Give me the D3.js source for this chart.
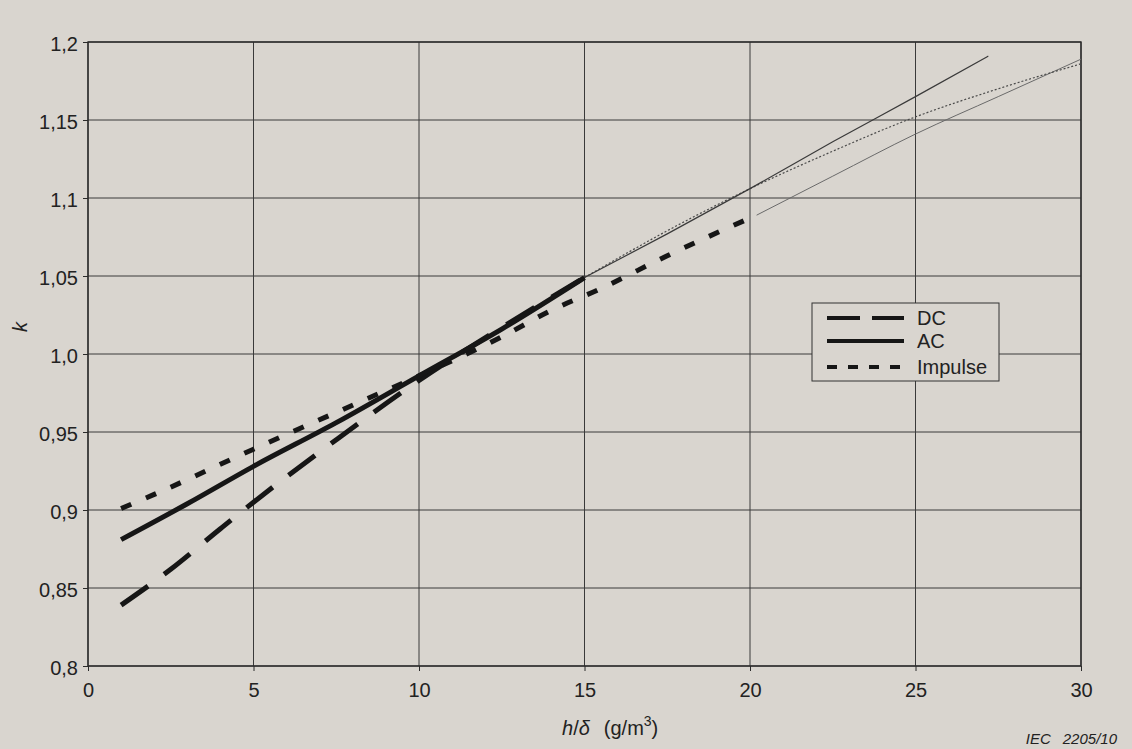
<!DOCTYPE html>
<html>
<head>
<meta charset="utf-8">
<script src="https://cdn.jsdelivr.net/npm/d3@7"></script>
<style>
  body { margin: 0; background: #d9d5cf; }
  svg { display: block; }
  text { font-family: "Liberation Sans", Arial, sans-serif; fill: #222; }
</style>
</head>
<body>
<svg id="chart" width="1132" height="749"></svg>
<script>
// values: [h/delta, k]
var dcMeasured = [[1, 0.839], [2.5, 0.862], [4, 0.888], [5, 0.905], [7.5, 0.945], [10, 0.983], [12.5, 1.017], [15, 1.049]];
var dcExtended = [[15, 1.049], [17.5, 1.079], [20, 1.106], [22.5, 1.130], [25, 1.152], [27.5, 1.170], [30, 1.186]];
var acMeasured = [[1, 0.881], [3, 0.904], [5, 0.928], [7.5, 0.956], [10, 0.986], [12.5, 1.016], [15, 1.049]];
var acExtended = [[15, 1.049], [17.5, 1.077], [20, 1.106], [22.5, 1.136], [25, 1.165], [27.2, 1.191]];
var impMeasured = [[1, 0.901], [2, 0.910], [5, 0.939], [8.4, 0.971], [10, 0.986], [12.5, 1.011], [14, 1.028], [15.5, 1.042], [17.5, 1.063], [20.2, 1.089]];
var impExtended = [[20.2, 1.089], [22.5, 1.114], [25, 1.141], [27.5, 1.165], [30, 1.189]];

var xTicks = [0, 5, 10, 15, 20, 25, 30];
var yTicks = [0.8, 0.85, 0.9, 0.95, 1.0, 1.05, 1.1, 1.15, 1.2];
var legendKeys = ["DC", "AC", "Impulse"];

var svg = d3.select("#chart"),
    margin = { top: 42, right: 51, bottom: 83, left: 88 },
    width = +svg.attr("width") - margin.left - margin.right,
    height = +svg.attr("height") - margin.top - margin.bottom,
    g = svg.append("g").attr("transform", "translate(" + margin.left + "," + margin.top + ")");

var x = d3.scaleLinear().domain([0, 30]).range([0, width]);
var y = d3.scaleLinear().domain([0.8, 1.2]).range([height, 0]);

function fmt(d) {
    var s = d3.format(".2f")(d);
    if (s.slice(-1) === "0") s = s.slice(0, -1);
    return s.replace(".", ",");
}

// grid
g.append("g")
    .selectAll("line")
    .data(yTicks)
    .enter().append("line")
    .attr("x1", 0).attr("x2", width)
    .attr("y1", function (d) { return y(d); })
    .attr("y2", function (d) { return y(d); })
    .attr("stroke", "#3a3a3a")
    .attr("stroke-width", 1);

g.append("g")
    .selectAll("line")
    .data(xTicks)
    .enter().append("line")
    .attr("y1", 0).attr("y2", height)
    .attr("x1", function (d) { return x(d); })
    .attr("x2", function (d) { return x(d); })
    .attr("stroke", "#3a3a3a")
    .attr("stroke-width", 1);

g.append("rect")
    .attr("width", width).attr("height", height)
    .attr("fill", "none")
    .attr("stroke", "#2a2a2a")
    .attr("stroke-width", 1.4);

// axes
var yAxis = g.append("g")
    .call(d3.axisLeft(y).tickValues(yTicks).tickSize(5).tickPadding(5).tickFormat(fmt));
var xAxis = g.append("g")
    .attr("transform", "translate(0," + height + ")")
    .call(d3.axisBottom(x).tickValues(xTicks).tickSize(5).tickPadding(12));

[yAxis, xAxis].forEach(function (a) {
    a.select(".domain").remove();
    a.selectAll(".tick line").attr("stroke", "#2a2a2a");
    a.selectAll(".tick text").attr("font-size", 20).attr("fill", "#222")
        .attr("font-family", "Liberation Sans, Arial, sans-serif");
});
yAxis.selectAll(".tick text").attr("dy", "0.42em");

// series
var line = d3.line()
    .curve(d3.curveMonotoneX)
    .x(function (d) { return x(d[0]); })
    .y(function (d) { return y(d[1]); });

function thin(data, color, dash, w) {
    g.append("path")
        .datum(data)
        .attr("fill", "none")
        .attr("stroke", color)
        .attr("stroke-width", w)
        .attr("stroke-dasharray", dash)
        .attr("d", line);
}
thin(impExtended, "#6a6a6a", null, 1);
thin(dcExtended, "#4a4a4a", "2,2", 1.2);
thin(acExtended, "#3a3a3a", null, 1.2);

function thick(data, dash) {
    g.append("path")
        .datum(data)
        .attr("fill", "none")
        .attr("stroke", "#161616")
        .attr("stroke-width", 5)
        .attr("stroke-dasharray", dash)
        .attr("d", line);
}
thick(dcMeasured, "33,20");
thick(impMeasured, "11,16");
thick(acMeasured, null);

// legend
var legend = svg.append("g").attr("transform", "translate(812,303)");
legend.append("rect")
    .attr("width", 187).attr("height", 78)
    .attr("fill", "#d9d5cf")
    .attr("stroke", "#333")
    .attr("stroke-width", 1);
var dashes = { "DC": "33,12", "AC": null, "Impulse": "10,11" };
var rows = legend.selectAll("g.row")
    .data(legendKeys)
    .enter().append("g")
    .attr("class", "row")
    .attr("transform", function (d, i) { return "translate(0," + [15, 38, 64][i] + ")"; });
rows.append("line")
    .attr("x1", 15).attr("x2", 92)
    .attr("stroke", "#161616")
    .attr("stroke-width", 4)
    .attr("stroke-dasharray", function (d) { return dashes[d]; });
rows.append("text")
    .attr("x", 105)
    .attr("dy", "0.36em")
    .attr("font-size", 20)
    .text(function (d) { return d; });

// axis titles
var xt = svg.append("text")
    .attr("x", 562).attr("y", 735)
    .attr("font-size", 20);
xt.append("tspan").attr("font-style", "italic").text("h");
xt.append("tspan").text("/");
xt.append("tspan").attr("font-style", "italic").text("δ");
xt.append("tspan").attr("dx", 14).text("(g/m");
xt.append("tspan").attr("dy", -9).attr("font-size", 14).text("3");
xt.append("tspan").attr("dy", 9).text(")");

svg.append("text")
    .attr("transform", "translate(27,327) rotate(-90)")
    .attr("text-anchor", "middle")
    .attr("font-style", "italic")
    .attr("font-size", 20)
    .text("k");

var iec = svg.append("text")
    .attr("x", 1117).attr("y", 744)
    .attr("text-anchor", "end")
    .attr("font-style", "italic")
    .attr("font-size", 15);
iec.append("tspan").text("IEC");
iec.append("tspan").attr("dx", 12).text("2205/10");
</script>
</body>
</html>
